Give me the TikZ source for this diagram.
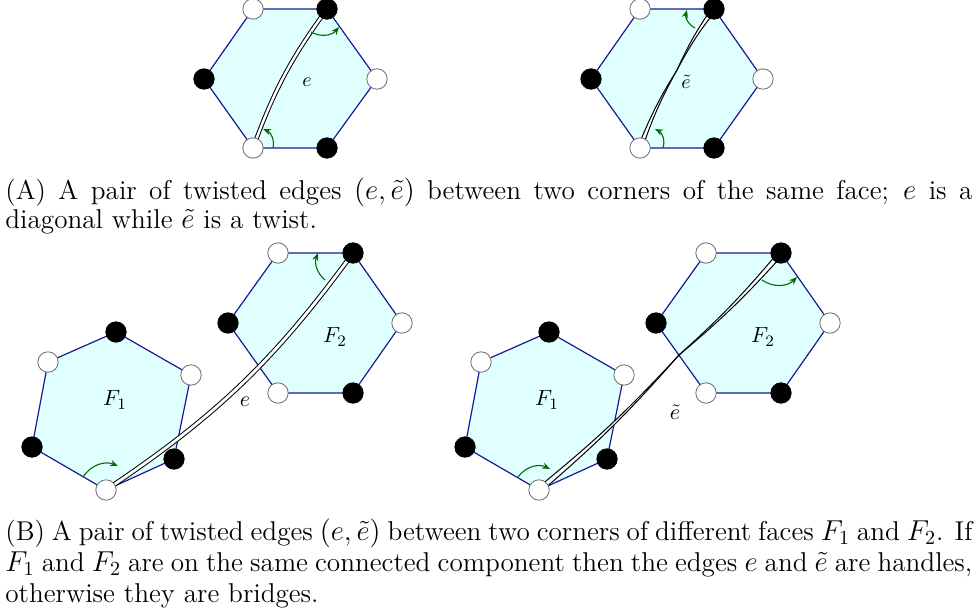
\documentclass[tikz,border=0pt]{standalone}
\usetikzlibrary{arrows.meta,calc}
\DeclareFontFamily{OT1}{cmrten}{}
\DeclareFontShape{OT1}{cmrten}{m}{n}{<-> cmr10}{}
\definecolor{facefill}{RGB}{224,255,255}
\definecolor{faceedge}{RGB}{25,25,150}
\definecolor{garrowc}{RGB}{0,110,0}
\definecolor{vborder}{RGB}{110,110,110}
\begin{document}
\begin{tikzpicture}[x=0.5pt,y=-0.5pt,
  face/.style={fill=facefill,draw=faceedge,line width=0.6pt,line join=round},
  wv/.style={circle,draw=vborder,fill=white,line width=0.4pt,minimum size=10.2pt,inner sep=0pt},
  bv/.style={circle,draw=black,fill=black,minimum size=10.2pt,inner sep=0pt},
  ribbon/.style={draw=black,double=white,line width=0.5pt,double distance=1.2pt},
  strand/.style={draw=black,line width=0.5pt},
  gar/.style={draw=garrowc,line width=0.55pt,-{Stealth[length=4pt,width=3.2pt]}},
  lab/.style={font=\fontsize{10}{11}\selectfont,inner sep=0pt},
  labB/.style={font=\fontsize{11}{12}\selectfont,inner sep=0pt},
  captext/.style={anchor=base west,inner sep=0pt,align=left}
]
\useasboundingbox (0,0) rectangle (977,615);

% ---------- (A) left: diagonal ----------
\coordinate (a1) at (253,9);  \coordinate (a2) at (327,9);
\coordinate (a3) at (377,79); \coordinate (a4) at (327,148);
\coordinate (a5) at (253,148);\coordinate (a6) at (204,79);
\path[face] (a1)--(a2)--(a3)--(a4)--(a5)--(a6)--cycle;
\draw[ribbon] (a5) to[bend left=8] (a2);
\draw[gar] ($(a2)+(-16,23)$) to[bend right=40] ($(a2)+(12,18)$);
\draw[gar] ($(a5)+(20,0)$) to[bend right=40] ($(a5)+(10,-19)$);
\node[wv] (A1) at (a1) {}; \node[bv] (A2) at (a2) {};
\node[wv] (A3) at (a3) {}; \node[bv] (A4) at (a4) {};
\node[wv] (A5) at (a5) {}; \node[bv] (A6) at (a6) {};
\node[lab] (le) at (307,82) {$e$};

% ---------- (A) right: twist ----------
\coordinate (b1) at (640,9);  \coordinate (b2) at (714,9);
\coordinate (b3) at (763,79); \coordinate (b4) at (714,148);
\coordinate (b5) at (640,148);\coordinate (b6) at (591,79);
\coordinate (bx) at (677,70);
\path[face] (b1)--(b2)--(b3)--(b4)--(b5)--(b6)--cycle;
\fill[white] ($(b5)+(2,1)$) to[bend left=5] (bx) to[bend right=5] ($(b5)-(2,1)$) -- cycle;
\fill[white] (bx) to[bend left=5] ($(b2)-(2,1)$) -- ($(b2)+(2,1)$) to[bend right=5] (bx) -- cycle;
\draw[strand] ($(b5)+(2,1)$) to[bend left=5] (bx) to[bend left=5] ($(b2)-(2,1)$);
\draw[strand] ($(b5)-(2,1)$) to[bend left=5] (bx) to[bend left=5] ($(b2)+(2,1)$);
\draw[gar] ($(b2)+(-19,19)$) to[bend left=40] ($(b2)+(-27,1)$);
\draw[gar] ($(b5)+(23,0)$) to[bend right=40] ($(b5)+(15,-19)$);
\node[wv] (B1) at (b1) {}; \node[bv] (B2) at (b2) {};
\node[wv] (B3) at (b3) {}; \node[bv] (B4) at (b4) {};
\node[wv] (B5) at (b5) {}; \node[bv] (B6) at (b6) {};
\node[lab] (lte) at (686,82) {$\tilde{e}$};

% ---------- (B) left: two faces, edge e ----------
\coordinate (p1) at (116,332); \coordinate (p2) at (191,375);
\coordinate (p3) at (174,459); \coordinate (p4) at (106,490);
\coordinate (p5) at (32,447);  \coordinate (p6) at (48,362);
\coordinate (q1) at (278,253); \coordinate (q2) at (353,253);
\coordinate (q3) at (402,323); \coordinate (q4) at (353,393);
\coordinate (q5) at (278,393); \coordinate (q6) at (228,323);
\path[face] (p1)--(p2)--(p3)--(p4)--(p5)--(p6)--cycle;
\path[face] (q1)--(q2)--(q3)--(q4)--(q5)--(q6)--cycle;
\draw[ribbon,double distance=1.4pt] (p4) to[bend right=10] (q2);
\draw[gar] ($(p4)+(-23,-13)$) to[bend left=40] ($(p4)+(12,-24)$);
\draw[gar] ($(q2)+(-28,27)$) to[bend left=35] ($(q2)+(-35,0)$);
\node[bv] (P1) at (p1) {}; \node[wv] (P2) at (p2) {};
\node[bv] (P3) at (p3) {}; \node[wv] (P4) at (p4) {};
\node[bv] (P5) at (p5) {}; \node[wv] (P6) at (p6) {};
\node[wv] (Q1) at (q1) {}; \node[bv] (Q2) at (q2) {};
\node[wv] (Q3) at (q3) {}; \node[bv] (Q4) at (q4) {};
\node[wv] (Q5) at (q5) {}; \node[bv] (Q6) at (q6) {};
\node[labB] (lF1) at (115,400) {$F_1$};
\node[labB] (lF2) at (335,337) {$F_2$};
\node[labB] (le2) at (245,402) {$e$};

% ---------- (B) right: two faces, twisted edge ----------
\coordinate (r1) at (549,332); \coordinate (r2) at (624,375);
\coordinate (r3) at (607,459); \coordinate (r4) at (539,490);
\coordinate (r5) at (465,447); \coordinate (r6) at (481,362);
\coordinate (s1) at (706,253); \coordinate (s2) at (781,253);
\coordinate (s3) at (830,323); \coordinate (s4) at (781,393);
\coordinate (s5) at (706,393); \coordinate (s6) at (656,323);
\coordinate (sx) at (679,355);
\path[face] (r1)--(r2)--(r3)--(r4)--(r5)--(r6)--cycle;
\path[face] (s1)--(s2)--(s3)--(s4)--(s5)--(s6)--cycle;
\fill[white] ($(r4)+(1.8,1.8)$) to[bend right=4] (sx) to[bend left=4] ($(r4)-(1.8,1.8)$) -- cycle;
\fill[white] (sx) to[bend right=4] ($(s2)-(1.8,1.8)$) -- ($(s2)+(1.8,1.8)$) to[bend left=4] (sx) -- cycle;
\draw[strand] ($(r4)+(1.8,1.8)$) to[bend right=4] (sx) to[bend right=4] ($(s2)-(1.8,1.8)$);
\draw[strand] ($(r4)-(1.8,1.8)$) to[bend right=4] (sx) to[bend right=4] ($(s2)+(1.8,1.8)$);
\draw[gar] ($(r4)+(-21,-13)$) to[bend left=40] ($(r4)+(11,-21)$);
\draw[gar] ($(s2)+(-19,27)$) to[bend right=40] ($(s2)+(16,24)$);
\node[bv] (R1) at (r1) {}; \node[wv] (R2) at (r2) {};
\node[bv] (R3) at (r3) {}; \node[wv] (R4) at (r4) {};
\node[bv] (R5) at (r5) {}; \node[wv] (R6) at (r6) {};
\node[wv] (S1) at (s1) {}; \node[bv] (S2) at (s2) {};
\node[wv] (S3) at (s3) {}; \node[bv] (S4) at (s4) {};
\node[wv] (S5) at (s5) {}; \node[bv] (S6) at (s6) {};
\node[labB] (lF1r) at (547,400) {$F_1$};
\node[labB] (lF2r) at (763,337) {$F_2$};
\node[labB] (lter) at (675,412) {$\tilde{e}$};

% ---------- captions ----------
\node[captext] (capA) at (5,199) {\parbox[t]{483.5pt}{\fontsize{13.6}{14.8}\fontfamily{cmrten}\selectfont
(A) A pair of twisted edges $(e,\tilde{e})$ between two corners of the same face; $e$ is a\linebreak
diagonal while $\tilde{e}$ is a twist.}};
\node[captext] (capB) at (5,540) {\parbox[t]{483.5pt}{\fontsize{13.6}{15.5}\fontfamily{cmrten}\selectfont
(B) A pair of twisted edges $(e,\tilde{e})$ between two corners of different faces $F_1$ and $F_2$. If\linebreak
$F_1$ and $F_2$ are on the same connected component then the edges $e$ and $\tilde{e}$ are handles,\linebreak
otherwise they are bridges.}};
\end{tikzpicture}
\end{document}
